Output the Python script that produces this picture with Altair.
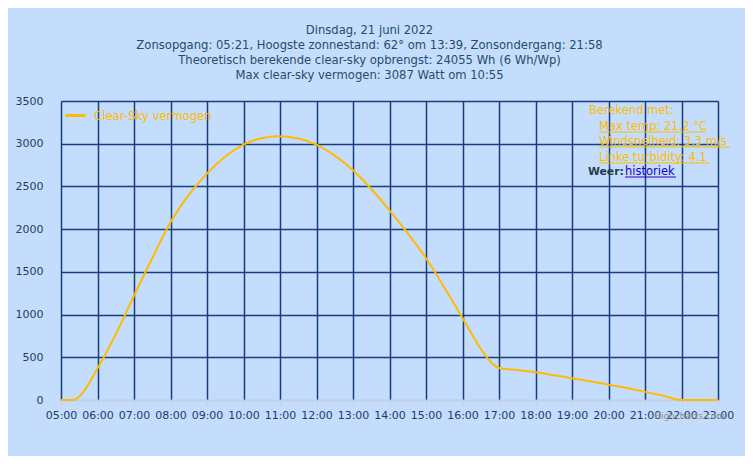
import altair as alt
import pandas as pd

# --- data (hours as decimal, watts) ---
times = ["05:00", "05:21", "05:30", "06:00", "06:30", "07:00", "07:30", "08:00", "08:30",
         "09:00", "09:30", "10:00", "10:30", "10:55", "11:30", "12:00", "12:30", "13:00",
         "13:30", "14:00", "14:30", "15:00", "15:30", "16:00", "16:30", "16:50", "17:00",
         "17:30", "18:00", "18:30", "19:00", "19:30", "20:00", "20:30", "21:00", "21:30",
         "21:58", "23:00"]
watts = [0, 0, 40, 370, 770, 1220, 1660, 2080, 2400,
         2650, 2850, 2990, 3065, 3087, 3060, 2990, 2860, 2690,
         2470, 2220, 1950, 1660, 1320, 960, 600, 420, 375,
         350, 325, 290, 255, 220, 180, 140, 95, 50,
         0, 0]
hour_ticks = list(range(5, 24))
y_ticks = [0, 500, 1000, 1500, 2000, 2500, 3000, 3500]

title_lines = [
    "Dinsdag, 21 juni 2022",
    "Zonsopgang: 05:21, Hoogste zonnestand: 62° om 13:39, Zonsondergang: 21:58",
    "Theoretisch berekende clear-sky opbrengst: 24055 Wh (6 Wh/Wp)",
    "Max clear-sky vermogen: 3087 Watt om 10:55",
]
series_name = "Clear-Sky vermogen"

def to_hours(t):
    h, m = t.split(":")
    return int(h) + int(m) / 60.0

df = pd.DataFrame({
    "hour": [to_hours(t) for t in times],
    "watt": watts,
    "series": [series_name] * len(times),
})

FONT = "DejaVu Sans"
ORANGE = "#FFBB00"
GRID = "#173E7E"
LABEL = "#1F3A6B"
TITLE = "#274B6D"
BG = "#C4DDFC"

line = alt.Chart(df).mark_line(strokeWidth=2, interpolate="monotone").encode(
    x=alt.X("hour:Q",
            scale=alt.Scale(domain=[5, 23], nice=False, zero=False),
            axis=alt.Axis(values=hour_ticks, title=None,
                          labelExpr="(datum.value < 10 ? '0' : '') + datum.value + ':00'",
                          grid=True, gridColor=GRID, gridWidth=1.5,
                          domainColor="#C0D0E0", domainWidth=1.5,
                          tickColor="#C0D0E0", tickSize=5, tickWidth=1,
                          labelPadding=4, labelFont=FONT, labelFontSize=11,
                          labelColor=LABEL, labelFlush=False)),
    y=alt.Y("watt:Q",
            scale=alt.Scale(domain=[0, 3500], nice=False),
            axis=alt.Axis(values=y_ticks, title=None, domain=False, ticks=False,
                          tickSize=0, labelPadding=18, format="d",
                          grid=True,
                          gridColor=alt.condition("datum.value === 0",
                                                  alt.value("#C0D0E0"),
                                                  alt.value(GRID)),
                          gridWidth=1.5,
                          labelFont=FONT, labelFontSize=11, labelColor=LABEL)),
    color=alt.Color("series:N",
                    scale=alt.Scale(range=[ORANGE]),
                    legend=alt.Legend(orient="none", legendX=3, legendY=3, title=None,
                                      symbolType="stroke", symbolStrokeWidth=3,
                                      symbolSize=400, labelOffset=7, padding=0,
                                      labelFont=FONT, labelFontSize=11.7,
                                      labelColor=ORANGE)),
)

one = pd.DataFrame({"a": [0]})

def label(text, x, y, color, size=11.5, weight="normal", align="left"):
    return alt.Chart(one).mark_text(
        text=text, x=x, y=y, color=color, font=FONT, fontSize=size,
        fontWeight=weight, align=align, baseline="middle")

def underline(x1, x2, y, color):
    return alt.Chart(one).mark_rule(color=color, strokeWidth=1).encode(
        x=alt.value(x1), x2=alt.value(x2), y=alt.value(y))

# right-hand info box (plot coordinates: origin at plot top-left)
ox, oy = 61, 101
info = [
    label("Berekend met:", 589 - ox, 111 - oy, ORANGE),
    label("Max temp: 21.2 °C", 599 - ox, 127 - oy, ORANGE),
    underline(599 - ox, 706 - ox, 132 - oy, ORANGE),
    label("Windsnelheid: 3.3 m/s", 599 - ox, 142 - oy, ORANGE),
    underline(599 - ox, 730 - ox, 147 - oy, ORANGE),
    label("Linke turbidity: 4.1", 599 - ox, 158 - oy, ORANGE),
    underline(599 - ox, 709 - ox, 163 - oy, ORANGE),
    label("Weer:", 588 - ox, 172 - oy, "#2B3850", size=10.8, weight="bold"),
    label("historiek", 625 - ox, 172 - oy, "#2200CC"),
    underline(625 - ox, 676 - ox, 177 - oy, "#2200CC"),
    label("Highcharts.com", 725 - ox, 416 - oy, "#909090", size=9, align="right"),
]

chart = alt.layer(line, *info).properties(
    width=657, height=299,
    padding={"left": 53, "top": 93, "right": 27, "bottom": 56},
    autosize=alt.AutoSizeParams(type="none"),
    background=BG,
    title=alt.TitleParams(text=title_lines, font=FONT, fontSize=11.6, fontWeight="normal",
                          color=TITLE, lineHeight=15, anchor="middle", dx=-20,
                          offset=13),
).configure_view(stroke=None)

chart.save("out.html", embed_options={"renderer": "svg", "actions": False})
